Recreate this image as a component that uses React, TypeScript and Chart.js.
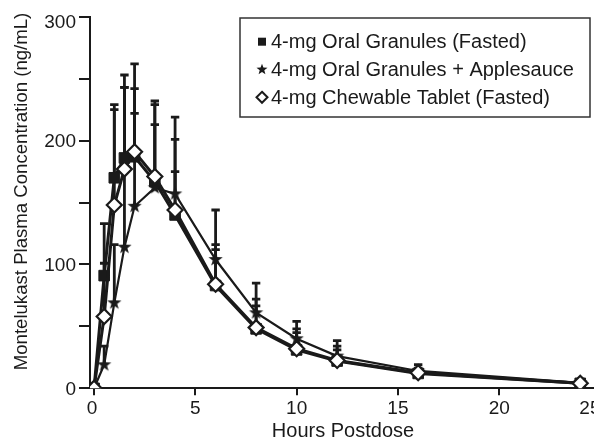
import React, { useEffect, useRef } from 'react';
import { Chart, registerables } from 'chart.js';

Chart.register(...registerables);

// ---- data ----
const hours = [0, 0.5, 1, 1.5, 2, 3, 4, 6, 8, 10, 12, 16, 24];

const seriesNames = [
  '4-mg Oral Granules (Fasted)',
  '4-mg Oral Granules + Applesauce',
  '4-mg Chewable Tablet (Fasted)',
];

const granulesFasted = [0, 91, 170, 186, 187, 167, 140, 83, 48, 31, 22, 12, 4];
const granulesFastedUpper = [null, 133, 229, 253, 242, 229, 175, 116, 72, 48, 34, 16, 6];

const granulesApplesauce = [0, 19, 69, 114, 147, 162, 157, 104, 61, 40, 26, 14, 4.5];
const granulesApplesauceUpper = [null, 34, 116, 243, 222, 213, 219, 144, 85, 54, 38.5, 19, 6.5];

const chewableFasted = [0, 58, 148, 177, 191, 171, 144, 84, 49, 32, 22.5, 12.6, 4];
const chewableFastedUpper = [null, 101, 225, 243, 262, 232, 201, 112, 66.5, 45, 31, 15, 5.5];

const xTickValues = [0, 5, 10, 15, 20, 25];
const yTickValues = [0, 50, 100, 150, 200, 250, 300];
const yLabelValues = [0, 100, 200, 300];

const xTitle = 'Hours Postdose';
const yTitle = 'Montelukast Plasma Concentration (ng/mL)';

const INK = '#1a1a1a';
const FONT = '"Liberation Sans", Arial, sans-serif';

function makeStar(outer: number, inner: number, color: string) {
  const size = Math.ceil(outer * 2 + 2);
  const c = document.createElement('canvas');
  c.width = size;
  c.height = size;
  const ctx = c.getContext('2d')!;
  ctx.translate(size / 2, size / 2);
  ctx.beginPath();
  for (let i = 0; i < 10; i++) {
    const r = i % 2 === 0 ? outer : inner;
    const a = -Math.PI / 2 + (i * Math.PI) / 5;
    ctx.lineTo(r * Math.cos(a), r * Math.sin(a));
  }
  ctx.closePath();
  ctx.fillStyle = color;
  ctx.fill();
  return c;
}

function drawLegendMarker(ctx: CanvasRenderingContext2D, kind: string, x: number, y: number) {
  ctx.save();
  if (kind === 'square') {
    ctx.fillStyle = INK;
    ctx.fillRect(x - 4, y - 4, 8, 8);
  } else if (kind === 'star') {
    const outer = 5.8, inner = 2.4;
    ctx.beginPath();
    for (let i = 0; i < 10; i++) {
      const r = i % 2 === 0 ? outer : inner;
      const a = -Math.PI / 2 + (i * Math.PI) / 5;
      ctx.lineTo(x + r * Math.cos(a), y + r * Math.sin(a));
    }
    ctx.closePath();
    ctx.fillStyle = INK;
    ctx.fill();
  } else {
    ctx.beginPath();
    ctx.moveTo(x, y - 5.5);
    ctx.lineTo(x + 5.5, y);
    ctx.lineTo(x, y + 5.5);
    ctx.lineTo(x - 5.5, y);
    ctx.closePath();
    ctx.fillStyle = '#fff';
    ctx.fill();
    ctx.lineWidth = 2;
    ctx.strokeStyle = INK;
    ctx.stroke();
  }
  ctx.restore();
}

export default function App() {
  const ref = useRef<HTMLCanvasElement | null>(null);

  useEffect(() => {
    const canvas = ref.current;
    if (!canvas) return;

    const uppers = [granulesFastedUpper, granulesApplesauceUpper, chewableFastedUpper];
    const values = [granulesFasted, granulesApplesauce, chewableFasted];
    const kinds = ['square', 'star', 'diamond'];

    const extras = {
      id: 'extras',
      beforeDatasetsDraw(chart: any) {
        const { ctx } = chart;
        const xs = chart.scales.x;
        const ys = chart.scales.y;
        ctx.save();
        ctx.strokeStyle = INK;
        ctx.lineWidth = 2.8;
        values.forEach((vals, si) => {
          const up = uppers[si];
          hours.forEach((h, j) => {
            const u = up[j];
            if (u == null || u <= vals[j]) return;
            const x = xs.getPixelForValue(h);
            const y1 = ys.getPixelForValue(vals[j]);
            const y2 = ys.getPixelForValue(u);
            ctx.beginPath();
            ctx.moveTo(x, y1);
            ctx.lineTo(x, y2);
            ctx.moveTo(x - 4.2, y2);
            ctx.lineTo(x + 4.2, y2);
            ctx.stroke();
          });
        });
        ctx.restore();
      },
      afterDraw(chart: any) {
        const { ctx, chartArea } = chart;
        const xs = chart.scales.x;
        const ys = chart.scales.y;
        ctx.save();
        ctx.fillStyle = INK;

        // y tick labels
        ctx.font = `19px ${FONT}`;
        ctx.textAlign = 'right';
        ctx.textBaseline = 'middle';
        yLabelValues.forEach((v) => {
          const py = Math.max(ys.getPixelForValue(v) + 1, chartArea.top + 6);
          ctx.fillText(String(v), ys.right - 14, py);
        });

        // x tick labels
        ctx.textBaseline = 'alphabetic';
        xTickValues.forEach((v, i) => {
          const px = xs.getPixelForValue(v);
          ctx.textAlign = i === xTickValues.length - 1 ? 'right' : 'center';
          ctx.fillText(String(v), i === 0 ? px - 2 : px, xs.top + 26);
        });

        // x title
        ctx.font = `20px ${FONT}`;
        ctx.textAlign = 'center';
        ctx.fillText(xTitle, 343, xs.top + 48.5);

        // y title
        ctx.save();
        ctx.font = `18.6px ${FONT}`;
        ctx.translate(26.5, 191.5);
        ctx.rotate(-Math.PI / 2);
        ctx.textAlign = 'center';
        ctx.textBaseline = 'alphabetic';
        ctx.fillText(yTitle, 0, 0);
        ctx.restore();

        // legend box
        ctx.lineWidth = 1.5;
        ctx.strokeStyle = '#333';
        ctx.strokeRect(240, 18, 350, 99);
        ctx.font = `20px ${FONT}`;
        ctx.textAlign = 'left';
        ctx.textBaseline = 'middle';
        seriesNames.forEach((name, i) => {
          const cy = 41.7 + i * 27.8;
          drawLegendMarker(ctx, kinds[i], 262, cy);
          ctx.fillStyle = INK;
          ctx.fillText(name, 271, cy + 1);
        });
        ctx.restore();
      },
    };

    const star = makeStar(7.5, 3, INK);

    const chart = new Chart(canvas, {
      type: 'line',
      data: {
        datasets: [
          {
            label: seriesNames[0],
            data: hours.map((h, i) => ({ x: h, y: granulesFasted[i] })),
            borderColor: INK,
            borderWidth: 3,
            pointStyle: 'rect',
            pointRadius: 7.5,
            pointBackgroundColor: INK,
            pointBorderColor: INK,
            pointBorderWidth: 1,
            order: 2,
          },
          {
            label: seriesNames[1],
            data: hours.map((h, i) => ({ x: h, y: granulesApplesauce[i] })),
            borderColor: INK,
            borderWidth: 2.2,
            pointStyle: star as any,
            pointRadius: 7.5,
            order: 1,
          },
          {
            label: seriesNames[2],
            data: hours.map((h, i) => ({ x: h, y: chewableFasted[i] })),
            borderColor: INK,
            borderWidth: 3,
            pointStyle: 'rectRot',
            pointRadius: 7.5,
            pointBackgroundColor: '#fff',
            pointBorderColor: INK,
            pointBorderWidth: 2.2,
            order: 0,
          },
        ],
      },
      options: {
        responsive: false,
        animation: false,
        devicePixelRatio: 1,
        layout: { padding: { top: 16.8, right: 19.5, left: 0, bottom: 0 } },
        plugins: { legend: { display: false }, tooltip: { enabled: false } },
        scales: {
          x: {
            type: 'linear',
            min: -0.2,
            max: 25,
            afterBuildTicks: (s: any) => {
              s.ticks = xTickValues.map((v) => ({ value: v }));
            },
            afterFit: (s: any) => {
              s.height = 56.7;
            },
            grid: { drawOnChartArea: false, drawTicks: true, tickLength: 7, color: INK, lineWidth: 2 },
            border: { display: true, color: INK, width: 2 },
            ticks: { display: false },
          },
          y: {
            type: 'linear',
            min: 0,
            max: 300,
            afterBuildTicks: (s: any) => {
              s.ticks = yTickValues.map((v) => ({ value: v }));
            },
            afterFit: (s: any) => {
              s.width = 90;
            },
            grid: { drawOnChartArea: false, drawTicks: true, tickLength: 11, color: INK, lineWidth: 2 },
            border: { display: true, color: INK, width: 2 },
            ticks: { display: false },
          },
        },
      },
      plugins: [extras],
    });

    return () => chart.destroy();
  }, []);

  return (
    <div
      style={{
        position: 'fixed',
        left: 0,
        top: 0,
        width: 594,
        height: 445,
        overflow: 'hidden',
        background: '#fff',
      }}
    >
      <canvas ref={ref} width={620} height={445} style={{ display: 'block' }} />
    </div>
  );
}
